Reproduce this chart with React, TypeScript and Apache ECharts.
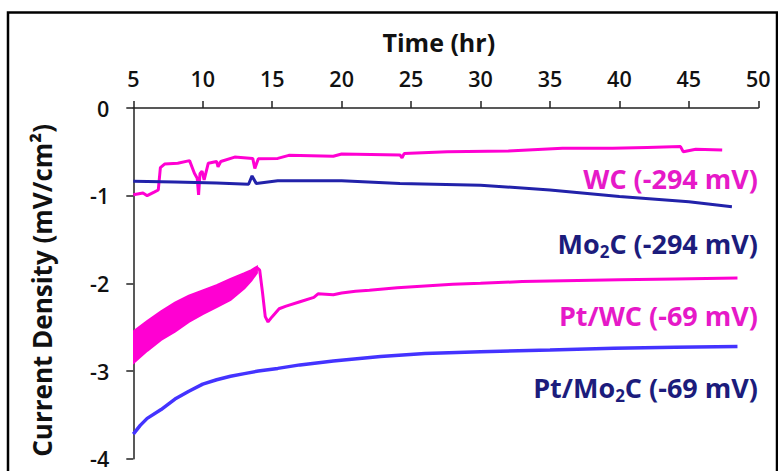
import React, { useEffect, useRef } from "react";
import * as echarts from "echarts";

// ---- data ----
const xTicks = [5, 10, 15, 20, 25, 30, 35, 40, 45, 50];
const yTicks = [0, -1, -2, -3, -4];

const wcT = [5, 5.7, 6.0, 6.5, 6.8, 6.95, 7.25, 8.2, 9.05, 9.4, 9.6, 9.7, 9.8, 9.95, 10.1, 10.4, 11.0, 11.1, 11.3, 12.3, 13.6, 13.75, 14.0, 15.4, 16.2, 19.4, 20.0, 24.2, 24.35, 24.5, 27.6, 32, 35.9, 39.5, 42, 44.4, 44.6, 45.5, 47.4];
const wcV = [-0.99, -0.97, -1.0, -0.96, -0.935, -0.68, -0.64, -0.63, -0.6, -0.745, -0.8, -0.99, -0.75, -0.72, -0.82, -0.63, -0.61, -0.67, -0.61, -0.56, -0.575, -0.69, -0.58, -0.575, -0.54, -0.55, -0.525, -0.535, -0.57, -0.52, -0.5, -0.49, -0.46, -0.46, -0.45, -0.44, -0.5, -0.47, -0.48];

const mo2cT = [5, 8, 11, 13.3, 13.55, 13.85, 15.4, 16, 20, 24.2, 30, 35, 40, 45, 48.1];
const mo2cV = [-0.835, -0.845, -0.855, -0.87, -0.775, -0.86, -0.83, -0.83, -0.83, -0.86, -0.88, -0.935, -1.01, -1.07, -1.125];

// Pt/WC oscillating band (edges of the noisy region)
const ptwcBandT = [5, 6, 7, 8, 9, 10, 11, 12, 13, 13.5, 13.9];
const ptwcBandUpper = [-2.55, -2.43, -2.32, -2.22, -2.14, -2.08, -2.02, -1.95, -1.885, -1.85, -1.81];
const ptwcBandLower = [-2.91, -2.77, -2.645, -2.55, -2.44, -2.35, -2.27, -2.19, -2.055, -1.97, -1.88];

const ptwcT = [13.9, 14.1, 14.3, 14.5, 14.7, 15.0, 15.5, 16, 17, 18, 18.3, 19.4, 20, 21, 22, 24, 26, 28, 30, 33, 36, 40, 44, 48.5];
const ptwcV = [-1.82, -1.85, -2.1, -2.38, -2.44, -2.38, -2.29, -2.26, -2.21, -2.16, -2.12, -2.13, -2.11, -2.09, -2.08, -2.05, -2.03, -2.01, -2.0, -1.98, -1.97, -1.96, -1.95, -1.94];

const ptmo2cT = [5, 5.5, 6, 7, 8, 9, 10, 11, 12, 13, 14, 15.4, 17, 19.4, 22.8, 26, 30, 35, 39.6, 44, 48.5];
const ptmo2cV = [-3.72, -3.62, -3.54, -3.44, -3.32, -3.23, -3.15, -3.1, -3.06, -3.03, -3.0, -2.97, -2.93, -2.885, -2.835, -2.8, -2.78, -2.76, -2.74, -2.73, -2.72];

const seriesLabels = [
  { parts: ["WC (-294 mV)"], color: "#e619c8" },
  { parts: ["Mo", "2", "C (-294 mV)"], color: "#1c1c7c" },
  { parts: ["Pt/WC (-69 mV)"], color: "#e619c8" },
  { parts: ["Pt/Mo", "2", "C (-69 mV)"], color: "#1c1c7c" },
];

const MAGENTA = "#ff00d2";
const NAVY_LINE = "#2222aa";
const BLUE_LINE = "#4433ff";
const FONT = "'Open Sans', 'Noto Sans', sans-serif";

const zip = (a: number[], b: number[]) => a.map((t, i) => [t, b[i]]);

export default function App() {
  const ref = useRef<HTMLDivElement>(null);
  useEffect(() => {
    if (!ref.current) return;
    const chart = echarts.init(ref.current, undefined, { renderer: "svg" });
    const labelY = [180, 245, 317, 389];
    const option: any = {
      animation: false,
      backgroundColor: "#ffffff",
      grid: { left: 133.3, right: 19.7, top: 108, bottom: 12.3, containLabel: false },
      xAxis: {
        type: "value",
        position: "top",
        min: 5,
        max: 50,
        interval: 5,
        name: "Time (hr)",
        nameLocation: "middle",
        nameGap: 54,
        nameTextStyle: { fontFamily: FONT, fontWeight: "bold", fontSize: 25, color: "#111", padding: [0, 14, 0, 0] },
        axisLine: { show: true, onZero: false, lineStyle: { color: "#222", width: 1.5 } },
        axisTick: { show: true, inside: false, length: 7, lineStyle: { color: "#222", width: 1.5 } },
        axisLabel: { fontFamily: FONT, fontWeight: 600, fontSize: 21.5, color: "#111", margin: 19, formatter: (v: number) => (xTicks.includes(v) ? String(v) : "") },
        splitLine: { show: false },
      },
      yAxis: {
        type: "value",
        min: -4,
        max: 0,
        interval: 1,
        name: "Current Density (mV/cm²)",
        nameLocation: "middle",
        nameRotate: 90,
        nameGap: 78,
        nameTextStyle: { fontFamily: FONT, fontWeight: "bold", fontSize: 26, color: "#111", padding: [0, 14, 0, 0] },
        axisLine: { show: true, onZero: false, lineStyle: { color: "#222", width: 1.5 } },
        axisTick: { show: true, inside: false, length: 7, lineStyle: { color: "#222", width: 1.5 } },
        axisLabel: { fontFamily: FONT, fontWeight: 600, fontSize: 21.5, color: "#111", margin: 24, formatter: (v: number) => (yTicks.includes(v) ? String(v) : "") },
        splitLine: { show: false },
      },
      series: [
        {
          name: "WC (-294 mV)", type: "line", data: zip(wcT, wcV), symbol: "none",
          lineStyle: { color: MAGENTA, width: 3 },
        },
        {
          name: "Mo2C (-294 mV)", type: "line", data: zip(mo2cT, mo2cV), symbol: "none",
          lineStyle: { color: NAVY_LINE, width: 3 },
        },
        {
          name: "Pt/WC band", type: "custom", silent: true, clip: true,
          data: [[ptwcBandT[0], ptwcBandUpper[0]]],
          encode: { x: 0, y: 1 },
          renderItem: (_p: any, api: any) => {
            const upper = ptwcBandT.map((t, i) => api.coord([t, ptwcBandUpper[i]]));
            const lower = ptwcBandT.map((t, i) => api.coord([t, ptwcBandLower[i]])).reverse();
            return {
              type: "polygon",
              shape: { points: [...upper, ...lower] },
              style: { fill: MAGENTA, stroke: MAGENTA, lineWidth: 2 },
            };
          },
        },
        {
          name: "Pt/WC (-69 mV)", type: "line", data: zip(ptwcT, ptwcV), symbol: "none",
          lineStyle: { color: MAGENTA, width: 3 },
        },
        {
          name: "Pt/Mo2C (-69 mV)", type: "line", data: zip(ptmo2cT, ptmo2cV), symbol: "none",
          lineStyle: { color: BLUE_LINE, width: 3.5 },
        },
      ],
      graphic: [
        {
          type: "rect",
          shape: { x: 8, y: 12.5, width: 769, height: 470 },
          style: { fill: "none", stroke: "#000", lineWidth: 2.5 },
          silent: true,
        },
        ...seriesLabels.map((l, i) => ({
          type: "text",
          x: 758,
          y: labelY[i],
          style: {
            text: l.parts.length === 1 ? `{a|${l.parts[0]}}` : `{a|${l.parts[0]}}{s|${l.parts[1]}}{a|${l.parts[2]}}`,
            align: "right",
            verticalAlign: "middle",
            rich: {
              a: { fontFamily: FONT, fontWeight: "bold", fontSize: 27, lineHeight: 30, fill: l.color, verticalAlign: "top" },
              s: { fontFamily: FONT, fontWeight: "bold", fontSize: 17, lineHeight: 18, fill: l.color, verticalAlign: "bottom", padding: [16, 0, 0, 0] },
            },
          },
        })),
      ],
    };
    chart.setOption(option);
    return () => chart.dispose();
  }, []);
  return <div ref={ref} style={{ position: "fixed", left: 0, top: 0, width: 778, height: 471 }} />;
}
